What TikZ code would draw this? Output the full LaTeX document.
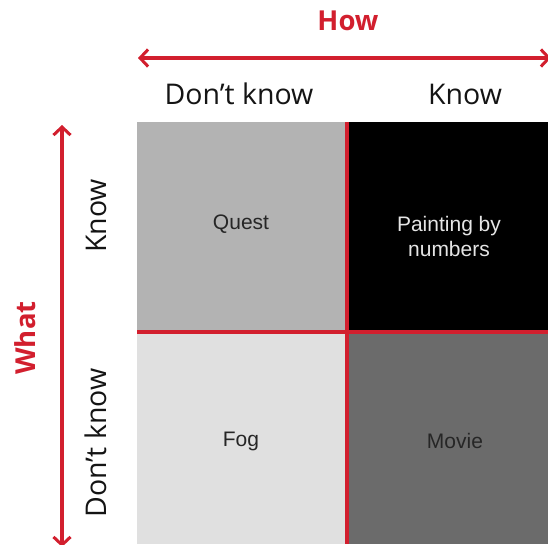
\documentclass[tikz,border=0pt]{standalone}
\usepackage{fontspec}
\setmainfont{Open Sans}
\newfontfamily\cellfont{Liberation Sans}
\usetikzlibrary{arrows.meta}
\definecolor{axisred}{HTML}{D21F2E}
\definecolor{questgray}{HTML}{B3B3B3}
\definecolor{foggray}{HTML}{E0E0E0}
\definecolor{moviegray}{HTML}{6B6B6B}
\tikzset{
  axis/.style={draw=axisred, line width=3.6pt, {Straight Barb[length=8pt,width=17pt,line width=3pt]}-{Straight Barb[length=8pt,width=17pt,line width=3pt]}},
  axistitle/.style={text=axisred, font=\fontsize{27.5}{32}\selectfont\bfseries},
  axislabel/.style={text=black!92, font=\fontsize{28.5}{34}\selectfont},
  cell/.style={minimum width=210pt, minimum height=210pt, inner sep=0pt, draw=none, align=center, text=black!85, font=\cellfont\fontsize{21}{25}\selectfont},
  divider/.style={draw=axisred, line width=3.8pt}
}
\begin{document}
\begin{tikzpicture}[x=1pt, y=-1pt]
\useasboundingbox (0,0) rectangle (548,544);
\fill[white] (0,0) rectangle (548,544);
% quadrants
\fill[questgray] (137,122) rectangle (347,332);
\fill[black] (347,122) rectangle (548,332);
\fill[foggray] (137,332) rectangle (347,544);
\fill[moviegray] (347,332) rectangle (548,544);
\node[cell] (quest) at (241,224) {Quest};
\node[cell, text=white!90!black] (paint) at (449,236) {Painting by\\numbers};
\node[cell] (fog) at (241,441) {Fog};
\node[cell] (movie) at (455,441) {Movie};
% dividers
\coordinate (vtop) at (347,122);
\coordinate (vbot) at (347,544);
\coordinate (hleft) at (137,332);
\coordinate (hright) at (548,332);
\draw[divider] (vtop) -- (vbot);
\draw[divider] (hleft) -- (hright);
% horizontal axis
\coordinate (hstart) at (138,58);
\coordinate (hend) at (551,58);
\draw[axis] (hstart) -- (hend);
\node[axistitle] (how) at (348,21) {How};
\node[axislabel] (hdk) at (239,94) {Don’t know};
\node[axislabel] (hk) at (465,94) {Know};
% vertical axis
\coordinate (vstart) at (62,125);
\coordinate (vend) at (62,547);
\draw[axis] (vstart) -- (vend);
\node[axistitle, rotate=90] (what) at (25,338) {What};
\node[axislabel, rotate=90] (vk) at (96,216) {Know};
\node[axislabel, rotate=90] (vdk) at (96,443) {Don’t know};
\end{tikzpicture}
\end{document}
